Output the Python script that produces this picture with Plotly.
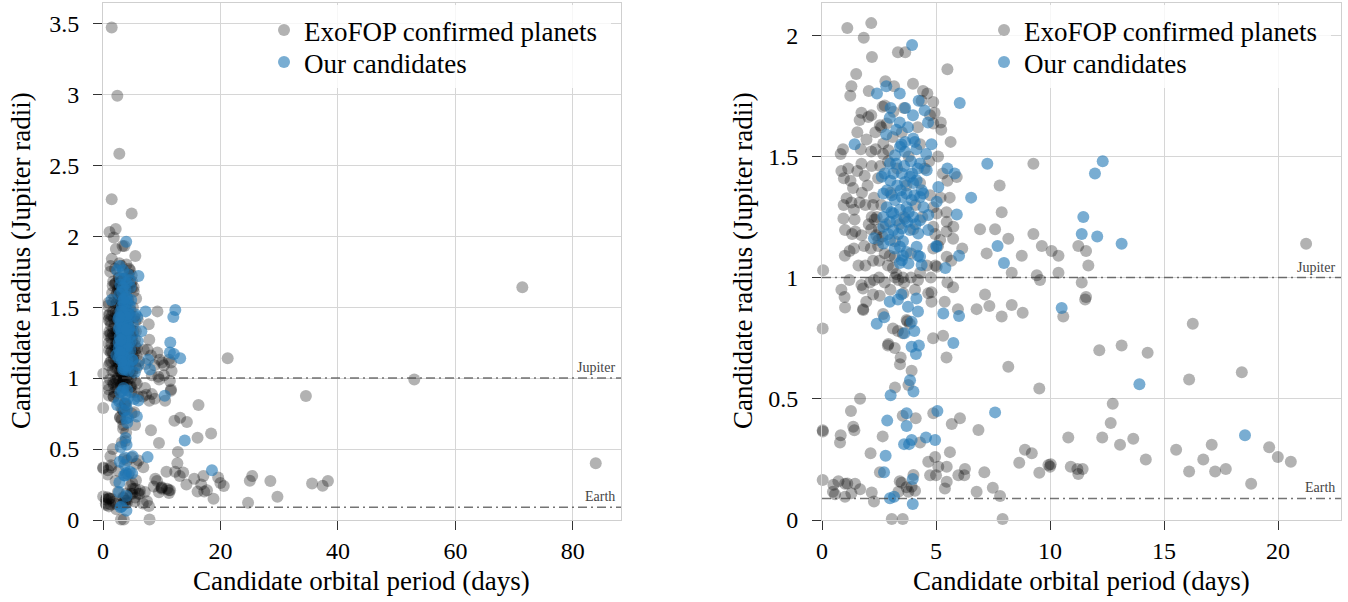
import plotly.graph_objects as go
from plotly.subplots import make_subplots

# ---------------- data (orbital period in days, radius in Jupiter radii) ----------------
exofop = [
    (1.48, 3.47), (2.44, 2.99), (2.78, 2.58), (1.48, 2.26), (4.88, 2.16),
    (1.11, 2.03), (2.16, 2.05), (1.83, 1.99), (3.33, 1.93), (3.65, 1.93), (2.19, 1.91), (5.50, 1.86),
    (1.50, 1.84), (1.29, 1.79), (1.24, 1.75), (2.05, 1.77), (2.78, 1.81), (3.16, 1.79), (3.99, 1.80), (4.43, 1.77), (4.62, 1.76),
    (1.73, 1.68), (2.16, 1.67), (1.65, 1.65), (1.55, 1.60), (2.34, 1.60), (2.75, 1.71), (4.94, 1.68), (5.21, 1.64), (5.23, 1.61), (5.64, 1.56),
    (0.92, 1.53), (0.82, 1.51), (1.70, 1.53), (2.16, 1.52), (2.68, 1.51), (1.73, 1.47), (0.85, 1.44), (0.96, 1.41), (1.87, 1.42), (2.46, 1.41),
    (5.50, 1.40), (7.79, 1.38), (5.09, 1.50), (9.27, 1.47), (2.66, 1.705), (3.13, 1.684), (2.84, 1.636), (2.54, 1.629), (2.69, 1.553), (2.91, 1.526),
    (4.74, 1.67), (4.88, 1.636), (4.37, 1.73), (4.88, 1.725), (2.03, 1.663), (2.18, 1.46), (5.91, 1.415),
    (7.88, 1.27), (6.93, 1.20), (7.59, 1.20), (8.17, 1.16), (9.27, 1.18), (9.64, 1.13), (7.22, 1.10), (8.76, 1.09), (8.32, 1.02), (9.42, 1.01), (9.56, 0.99), (7.15, 0.93),
    (0.05, 1.03), (10.07, 1.11), (10.37, 1.09), (11.24, 1.13), (11.58, 1.11), (11.68, 1.05), (10.37, 1.02), (11.39, 0.98), (11.58, 0.92), (21.23, 1.14),
    (1.36, 1.37), (1.75, 1.35), (1.29, 1.31), (1.65, 1.31), (1.40, 1.28), (1.43, 1.24), (1.46, 1.19), (1.32, 1.18), (1.73, 1.175), (1.21, 1.11), (1.40, 1.12),
    (2.24, 1.30), (2.31, 1.24), (2.16, 1.20), (2.38, 1.175), (2.14, 1.12), (2.46, 1.13), (2.75, 1.10), (2.97, 1.09), (3.19, 1.085), (2.89, 1.05), (3.11, 1.04), (2.24, 1.07),
    (1.08, 1.327), (0.94, 1.244), (1.01, 1.196), (2.28, 1.33), (2.18, 1.25), (2.47, 1.155), (2.51, 1.07), (3.20, 1.00), (3.35, 0.99), (3.55, 1.00), (3.26, 1.015), (3.60, 0.98),
    (5.60, 1.33), (5.46, 1.27), (5.46, 1.19), (5.75, 1.16), (5.09, 1.13), (4.97, 1.05), (6.15, 1.12), (5.67, 1.07), (5.47, 1.086), (5.76, 1.21), (5.47, 1.23),
    (4.74, 1.34), (4.88, 1.29), (5.03, 1.265), (4.88, 1.21), (4.96, 1.18), (5.18, 1.155), (4.88, 1.12), (5.03, 1.045), (4.21, 0.99), (4.77, 1.00), (4.30, 1.39),
    (3.00, 1.35), (3.30, 1.45), (3.60, 1.25), (4.10, 1.30), (3.80, 1.50), (4.40, 1.25), (2.90, 1.48), (3.50, 1.60), (4.20, 1.62), (3.20, 1.15),
    (3.90, 1.10), (2.60, 1.30), (4.50, 1.45), (3.70, 1.38), (4.00, 1.20), (3.40, 1.22), (2.80, 1.22), (3.10, 1.58), (3.60, 1.70), (4.30, 1.55),
    (0.95, 1.30), (1.15, 1.45), (1.25, 1.40), (1.55, 1.44), (1.90, 1.30), (2.00, 1.38), (2.05, 1.22), (1.60, 1.05), (1.90, 1.05), (2.50, 1.00),
    (2.40, 1.25), (2.55, 1.46), (2.35, 1.53), (1.95, 1.57), (2.60, 1.62), (1.00, 1.09), (1.85, 1.13), (2.10, 0.98), (1.20, 0.99), (3.00, 0.95),
    (2.50, 1.20), (2.65, 1.17), (5.20, 1.33), (5.30, 1.43), (4.60, 1.05), (4.30, 1.02), (3.90, 1.00), (4.70, 1.48),
    (0.85, 0.95), (0.99, 0.92), (1.73, 0.97), (1.80, 0.955), (1.94, 0.90), (1.80, 0.87), (2.24, 0.93), (2.53, 0.925), (2.28, 0.99), (2.75, 0.98),
    (2.68, 0.85), (3.11, 0.79), (3.33, 0.78), (2.89, 0.72), (3.74, 0.82), (3.85, 0.81),
    (4.80, 0.94), (4.80, 0.90), (4.87, 0.75), (5.31, 0.76), (5.38, 0.90), (5.50, 0.98), (5.75, 0.96), (5.96, 0.87), (5.46, 0.67), (3.19, 0.71), (3.45, 0.67),
    (6.78, 0.87), (7.34, 0.883), (7.88, 0.84), (8.32, 0.887), (8.80, 0.855), (1.01, 0.877), (1.81, 0.866), (3.57, 0.935), (4.08, 0.95), (4.66, 0.935),
    (10.58, 0.84), (11.54, 0.91), (16.26, 0.81), (12.16, 0.70), (13.14, 0.72), (14.28, 0.69), (16.10, 0.58), (18.41, 0.61), (9.53, 0.543), (0.03, 0.79),
    (2.91, 0.726), (3.54, 0.77), (3.71, 0.825), (3.42, 0.643), (3.20, 0.547), (3.93, 0.616), (3.79, 0.557), (8.17, 0.632), (34.55, 0.873), (53.0, 0.99), (71.4, 1.64),
    (12.75, 0.48), (12.66, 0.40), (10.80, 0.34), (12.29, 0.34), (13.07, 0.31), (13.65, 0.335), (14.20, 0.25), (15.53, 0.29), (16.10, 0.20), (16.72, 0.25),
    (17.09, 0.31), (17.24, 0.20), (17.71, 0.21), (18.82, 0.15), (19.61, 0.30), (19.99, 0.26), (20.56, 0.24),
    (10.03, 0.23), (10.00, 0.22), (10.91, 0.22), (11.20, 0.21), (11.24, 0.19), (11.43, 0.21), (9.53, 0.195), (9.93, 0.227),
    (0.03, 0.37), (0.04, 0.365), (0.82, 0.35), (0.79, 0.32), (1.27, 0.45), (1.67, 0.50), (1.37, 0.385), (1.42, 0.37), (2.13, 0.275), (0.03, 0.165),
    (0.50, 0.145), (0.57, 0.106), (0.72, 0.16), (1.01, 0.15), (1.01, 0.096), (1.45, 0.15), (1.67, 0.127), (2.18, 0.113), (2.28, 0.076), (0.48, 0.117), (1.11, 0.151), (1.29, 0.11),
    (2.66, 0.345), (2.54, 0.197), (3.54, 0.43), (4.11, 0.42), (4.30, 0.32), (4.88, 0.44), (5.69, 0.396), (6.05, 0.42), (5.61, 0.28), (4.96, 0.26),
    (4.66, 0.24), (5.47, 0.22), (5.10, 0.22), (4.74, 0.185), (5.00, 0.185), (5.47, 0.158), (5.39, 0.13), (5.98, 0.185), (6.27, 0.21), (6.24, 0.185),
    (6.78, 0.117), (7.12, 0.197), (7.49, 0.133), (7.81, 0.099), (7.92, 0.004), (6.86, 0.371), (8.65, 0.236), (8.90, 0.29), (9.20, 0.275),
    (3.06, 0.004), (3.54, 0.004), (3.35, 0.117), (3.49, 0.154), (3.71, 0.135), (3.79, 0.117), (3.93, 0.137), (4.08, 0.121), (4.01, 0.186), (3.41, 0.16),
    (25.4, 0.31), (25.0, 0.277), (28.5, 0.275), (29.7, 0.164), (24.7, 0.122), (35.6, 0.258), (37.4, 0.242), (38.3, 0.275), (83.9, 0.40),
]

candidates = [
    (3.95, 1.96), (2.41, 1.76), (2.82, 1.79), (3.41, 1.76), (6.04, 1.72), (4.24, 1.73), (3.65, 1.70), (3.99, 1.67), (3.01, 1.70), (4.50, 1.69),
    (4.65, 1.64), (2.97, 1.66), (3.41, 1.64), (3.26, 1.61), (3.77, 1.62), (2.82, 1.59), (1.43, 1.55), (4.07, 1.56), (4.80, 1.55), (3.48, 1.55),
    (7.25, 1.47), (5.50, 1.45), (5.82, 1.43), (4.57, 1.51), (4.14, 1.53),
    (4.00, 1.574), (4.30, 1.471), (3.42, 1.54), (3.20, 1.505), (3.64, 1.519), (2.98, 1.471), (2.62, 1.416), (3.13, 1.43), (3.50, 1.43), (3.86, 1.416),
    (3.64, 1.395), (4.00, 1.39), (4.15, 1.402), (4.37, 1.36), (4.59, 1.443), (5.10, 1.374), (2.69, 1.347), (3.06, 1.34), (3.20, 1.32), (3.50, 1.333),
    (3.71, 1.347), (3.93, 1.32), (4.30, 1.333), (4.44, 1.347), (2.84, 1.29), (3.13, 1.265), (3.42, 1.28), (3.71, 1.29), (2.69, 1.25), (2.98, 1.23),
    (3.28, 1.237), (3.64, 1.244), (4.00, 1.25), (4.30, 1.237), (4.66, 1.258), (5.03, 1.313), (2.69, 1.21), (3.13, 1.196), (3.50, 1.203), (3.86, 1.196),
    (4.22, 1.182), (4.66, 1.196), (2.28, 1.162), (2.69, 1.141), (2.98, 1.155), (3.42, 1.127), (3.71, 1.106), (4.15, 1.127), (4.30, 1.086), (3.50, 1.072),
    (3.79, 1.058), (4.37, 1.052), (5.03, 1.127),
    (3.30, 1.38), (3.60, 1.46), (3.90, 1.48), (3.00, 1.40), (3.80, 1.27), (4.10, 1.22), (3.35, 1.18), (3.55, 1.15), (2.85, 1.36), (4.20, 1.45),
    (3.25, 1.47), (3.75, 1.23), (4.45, 1.29), (2.90, 1.18), (3.05, 1.27), (3.95, 1.43), (3.45, 1.36), (4.05, 1.34), (2.75, 1.43), (3.65, 1.56),
    (6.54, 1.33), (5.91, 1.26), (7.70, 1.13), (7.98, 1.06), (6.01, 1.09), (5.41, 1.04), (12.31, 1.48), (11.97, 1.43), (11.46, 1.25), (11.39, 1.18),
    (12.07, 1.17), (13.14, 1.14), (10.51, 0.875), (13.92, 0.56), (18.55, 0.35), (5.01, 1.13), (4.21, 1.09), (3.55, 1.09), (3.41, 1.06), (3.19, 1.12),
    (3.48, 0.93), (3.33, 0.91), (2.97, 0.90), (3.77, 0.88), (4.21, 0.86), (4.14, 0.914), (2.40, 0.81), (2.73, 0.836), (3.61, 0.77), (3.93, 0.818),
    (4.05, 0.78), (3.93, 0.715), (4.25, 0.72), (4.12, 0.685), (3.86, 0.577), (4.01, 0.53), (3.71, 0.44), (3.71, 0.388), (3.60, 0.313), (3.82, 0.313),
    (3.93, 0.33), (4.56, 0.34), (4.96, 0.33), (5.06, 0.45), (5.76, 0.73), (5.32, 0.852), (6.01, 0.842), (7.59, 0.444), (2.79, 0.265), (2.72, 0.197),
    (2.86, 0.41), (3.01, 0.515), (2.98, 0.09), (3.16, 0.096), (3.98, 0.169), (3.98, 0.066),
]

exo_period = [p for p, r in exofop]
exo_radius = [r for p, r in exofop]
cand_period = [p for p, r in candidates]
cand_radius = [r for p, r in candidates]

series_names = ["ExoFOP confirmed planets", "Our candidates"]
ref_names = ["Jupiter", "Earth"]
ref_radii = [1.0, 0.0892]

x_title = "Candidate orbital period (days)"
y_title = "Candidate radius (Jupiter radii)"

left_xticks = [0, 20, 40, 60, 80]
left_yticks = [0, 0.5, 1, 1.5, 2, 2.5, 3, 3.5]
left_yticktext = ["0", "0.5", "1", "1.5", "2", "2.5", "3", "3.5"]
right_xticks = [0, 5, 10, 15, 20]
right_yticks = [0, 0.5, 1, 1.5, 2]
right_yticktext = ["0", "0.5", "1", "1.5", "2"]

# ---------------- styling ----------------
W, H = 1348, 602
FONT = "Liberation Serif"
GRAY = "rgba(0,0,0,0.3)"
BLUE = "rgba(31,119,180,0.6)"
GRID = "#d6d6d6"


def px_x(px):
    return px / W


def px_y(py):
    return (H - py) / H


fig = make_subplots(rows=1, cols=2)

# one legend per entry, so the two rows can sit as close together as in the reference
for col, legs in [(1, ("legend", "legend3")), (2, ("legend2", "legend4"))]:
    fig.add_trace(go.Scatter(
        x=exo_period, y=exo_radius, mode="markers", name=series_names[0],
        marker=dict(size=12, color=GRAY, line=dict(width=0)),
        cliponaxis=False, legend=legs[0], showlegend=True, hoverinfo="skip"), row=1, col=col)
    fig.add_trace(go.Scatter(
        x=cand_period, y=cand_radius, mode="markers", name=series_names[1],
        marker=dict(size=12, color=BLUE, line=dict(width=0)),
        cliponaxis=False, legend=legs[1], showlegend=True, hoverinfo="skip"), row=1, col=col)

axis_common = dict(
    showgrid=True, gridcolor=GRID, gridwidth=1,
    showline=True, linecolor="#cfcfcf", linewidth=1, mirror=True,
    ticks="outside", ticklen=9, tickwidth=1, tickcolor="#333333",
    zeroline=False, automargin=False,
    tickfont=dict(family=FONT, size=24, color="black"),
)

fig.update_layout(
    xaxis=dict(axis_common, domain=[px_x(103), px_x(621)], range=[0, 88.2],
               tickmode="array", tickvals=left_xticks, ticklabelstandoff=0),
    yaxis=dict(axis_common, domain=[px_y(520), px_y(3)], range=[0, 3.643],
               tickmode="array", tickvals=left_yticks, ticktext=left_yticktext, ticklabelstandoff=9),
    xaxis2=dict(axis_common, domain=[px_x(822), px_x(1341)], range=[0, 22.76],
                tickmode="array", tickvals=right_xticks, ticklabelstandoff=0),
    yaxis2=dict(axis_common, domain=[px_y(520), px_y(3)], range=[0, 2.133],
                tickmode="array", tickvals=right_yticks, ticktext=right_yticktext, ticklabelstandoff=9),
)

legend_common = dict(
    bgcolor="rgba(255,255,255,0)", borderwidth=0,
    font=dict(family=FONT, size=27, color="black"),
    xanchor="left", yanchor="top", itemwidth=30, tracegroupgap=0,
)
fig.update_layout(
    legend=dict(legend_common, x=px_x(264), y=px_y(6)),
    legend3=dict(legend_common, x=px_x(264), y=px_y(38)),
    legend2=dict(legend_common, x=px_x(984), y=px_y(6)),
    legend4=dict(legend_common, x=px_x(984), y=px_y(38)),
)

# white translucent boxes behind the legends
for x0, x1 in [(281, 611), (1001, 1331)]:
    fig.add_shape(type="rect", xref="paper", yref="paper",
                  x0=px_x(x0), x1=px_x(x1), y0=px_y(88), y1=px_y(5),
                  fillcolor="rgba(255,255,255,0.8)", line=dict(width=0), layer="above")

# reference lines (Jupiter / Earth) and their labels
for xa, ya in [("x", "y"), ("x2", "y2")]:
    for name, r in zip(ref_names, ref_radii):
        fig.add_shape(type="line", xref=f"{xa} domain", yref=ya,
                      x0=0, x1=1, y0=r, y1=r, layer="above",
                      line=dict(color="rgba(70,70,70,0.75)", width=1.5, dash="9px,4px,2px,4px"))
        fig.add_annotation(xref=f"{xa} domain", yref=ya, x=1, y=r,
                           text=name, showarrow=False, xanchor="right", yanchor="bottom",
                           xshift=-4, yshift=1,
                           font=dict(family=FONT, size=14, color="#444444"))

# axis titles
for cx in [361, 1081]:
    fig.add_annotation(xref="paper", yref="paper", x=px_x(cx), y=px_y(581),
                       text=x_title, showarrow=False, xanchor="center", yanchor="middle",
                       font=dict(family=FONT, size=27, color="black"))
for cx in [21, 743]:
    fig.add_annotation(xref="paper", yref="paper", x=px_x(cx), y=px_y(261),
                       text=y_title, showarrow=False, xanchor="center", yanchor="middle",
                       textangle=-90, font=dict(family=FONT, size=27, color="black"))

fig.update_layout(
    width=W, height=H, margin=dict(l=0, r=0, t=0, b=0),
    paper_bgcolor="white", plot_bgcolor="white",
    font=dict(family=FONT, color="black"),
    hovermode=False,
)

# remove the browser's default 8px body margin so the figure fills the window exactly
fig.write_html("out.html", config={"displayModeBar": False},
               post_script="document.body.style.margin='0px';")
